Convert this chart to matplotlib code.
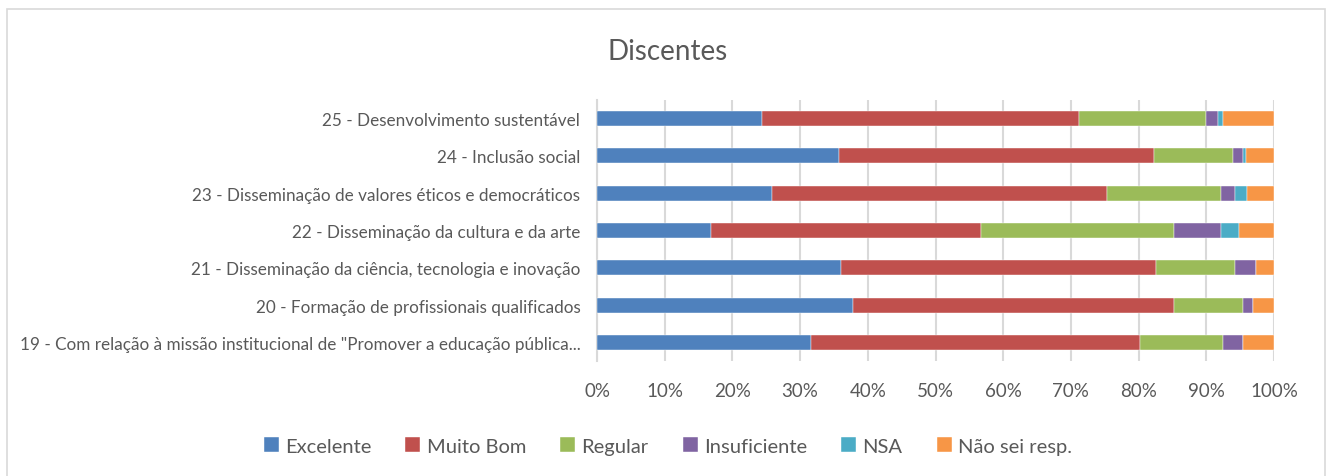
import numpy as np
import matplotlib.pyplot as plt

# categories, bottom to top
CATEGORIES = [
    '19 - Com relação à missão institucional de "Promover a educação pública...',
    '20 - Formação de profissionais qualificados',
    '21 - Disseminação da ciência, tecnologia e inovação',
    '22 - Disseminação da cultura e da arte',
    '23 - Disseminação de valores éticos e democráticos',
    '24 - Inclusão social',
    '25 - Desenvolvimento sustentável',
]

SERIES = ['Excelente', 'Muito Bom', 'Regular', 'Insuficiente', 'NSA', 'Não sei resp.']

excelente = [31.6, 37.8, 36.0, 16.8, 25.8, 35.7, 24.3]
muito_bom = [48.6, 47.4, 46.6, 39.9, 49.5, 46.5, 46.9]
regular = [12.3, 10.2, 11.6, 28.5, 16.9, 11.7, 18.7]
insuficiente = [2.9, 1.5, 3.2, 6.9, 2.0, 1.5, 1.9]
nsa = [0.0, 0.0, 0.0, 2.7, 1.8, 0.5, 0.7]
nao_sei = [4.6, 3.1, 2.6, 5.2, 4.0, 4.1, 7.5]

COLORS = ['#4F81BD', '#C0504D', '#9BBB59', '#8064A2', '#4BACC6', '#F79646']
TEXT = '#595959'

plt.rcParams['font.family'] = ['Lato', 'DejaVu Sans']


def main():
    fig = plt.figure(figsize=(13.3, 4.77), dpi=100)
    ax = fig.add_axes([0.4489, 0.2411, 0.509, 0.5472])

    data = [excelente, muito_bom, regular, insuficiente, nsa, nao_sei]
    y = np.arange(len(CATEGORIES))
    left = np.zeros(len(CATEGORIES))
    for name, vals, col in zip(SERIES, data, COLORS):
        vals = np.array(vals)
        ax.barh(y, vals, left=left, height=0.4, color=col, label=name,
                edgecolor='white', linewidth=0.3, zorder=3)
        left += vals

    ax.set_xlim(0, 100)
    ax.set_ylim(-0.5, len(CATEGORIES) - 0.5)
    ax.set_xticks(np.arange(0, 101, 10))
    ax.set_xticklabels(['%d%%' % v for v in range(0, 101, 10)])
    ax.set_yticks(y)
    ax.set_yticklabels(CATEGORIES)
    ax.tick_params(axis='x', length=0, pad=15, labelsize=13.5, colors=TEXT)
    ax.tick_params(axis='y', length=0, pad=12, labelsize=12.3, colors=TEXT)
    ax.grid(axis='x', color='#D9D9D9', linewidth=1.5, zorder=0)
    for s in ['top', 'right', 'bottom']:
        ax.spines[s].set_visible(False)
    ax.spines['left'].set_color('#D9D9D9')
    ax.spines['left'].set_linewidth(1.5)

    fig.text(0.502, 0.892, 'Discentes', ha='center', va='center',
             fontsize=20, color=TEXT)

    fig.legend(loc='center', bbox_to_anchor=(0.502, 0.063), ncol=6,
               frameon=False, fontsize=14.5, handlelength=0.75,
               handleheight=0.75, handletextpad=0.3, columnspacing=1.7,
               labelcolor=TEXT)

    # chart border
    border = plt.Rectangle((0.0055, -0.05), 0.991, 1.03, transform=fig.transFigure,
                           fill=False, edgecolor='#D9D9D9', linewidth=1.2)
    fig.patches.append(border)

    fig.savefig('out.png', dpi=100)


if __name__ == '__main__':
    main()
